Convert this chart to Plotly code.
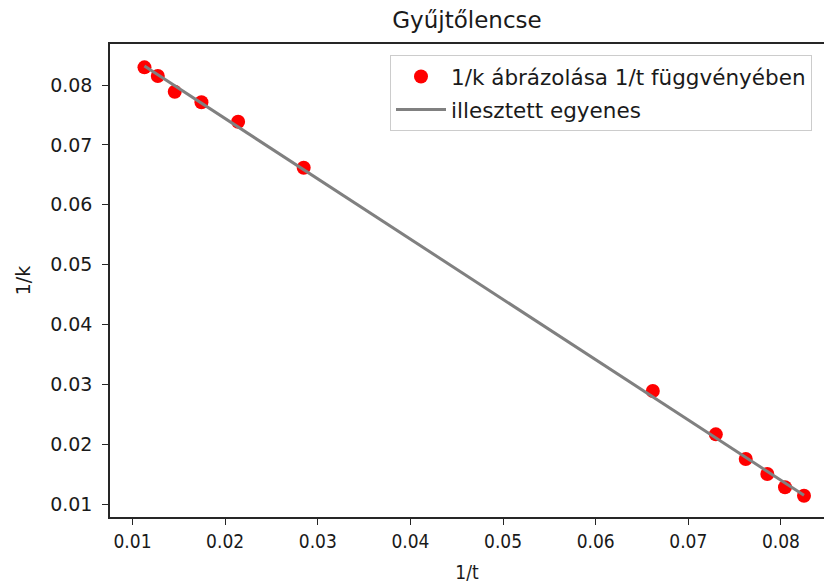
import numpy as np
import plotly.graph_objects as go

# 1/t values (x) and 1/k values (y)
inv_t = [0.01129, 0.01273, 0.01456, 0.01744, 0.02140, 0.02848,
         0.06617, 0.07297, 0.07620, 0.07853, 0.08044, 0.08249]
inv_k = [0.08295, 0.08150, 0.07888, 0.07711, 0.07387, 0.06618,
         0.02888, 0.02164, 0.01752, 0.01501, 0.01279, 0.01139]

title = "Gyűjtőlencse"
label_points = "1/k ábrázolása 1/t függvényében"
label_line = "illesztett egyenes"

# fitted line
slope, intercept = np.polyfit(inv_t, inv_k, 1)
fit_x = [min(inv_t), max(inv_t)]
fit_y = [slope * x + intercept for x in fit_x]

W, H = 824, 585
L, R, T, B = 110, 0, 44, 68

font = "DejaVu Sans"
narrow = "Liberation Sans Narrow, DejaVu Sans Condensed, DejaVu Sans"
txt = "#1a1a1a"

fig = go.Figure()
fig.add_trace(go.Scatter(
    x=inv_t, y=inv_k, mode="markers", name=label_points, legendgroup="a",
    marker=dict(color="#ff0000", size=14, line=dict(width=0)),
))
fig.add_trace(go.Scatter(
    x=fit_x, y=fit_y, mode="lines", name=label_line, legendgroup="b",
    line=dict(color="#808080", width=3),
))

fig.update_layout(
    width=W, height=H,
    margin=dict(l=L, r=R, t=T, b=B, autoexpand=False),
    paper_bgcolor="white", plot_bgcolor="white",
    font=dict(family=font, size=19, color=txt),
    title=dict(text=title, x=(L + (W - R - L) / 2) / W, xanchor="center",
               y=1 - 20 / H, yanchor="middle",
               font=dict(size=23, family=font, color=txt)),
    showlegend=True,
    legend=dict(
        x=(812 - L) / (W - L - R), xanchor="right",
        y=(H - B - 55) / (H - T - B), yanchor="top",
        bordercolor="#cccccc", borderwidth=1, bgcolor="rgba(255,255,255,0.8)",
        font=dict(size=21.5, family=font, color=txt),
        traceorder="grouped", tracegroupgap=2, itemwidth=50,
    ),
)
fig.update_xaxes(
    range=[0.00757, 0.08465], dtick=0.01, tick0=0, tickformat=".2f",
    showgrid=False, zeroline=False, automargin=False,
    showline=True, linecolor="#262626", linewidth=1.5, mirror=True,
    ticks="outside", ticklen=6, tickcolor="#262626", tickwidth=1.2,
    title=dict(text="1/t", standoff=15, font=dict(size=19, family=narrow)),
    tickfont=dict(size=19, family=narrow),
)
fig.update_yaxes(
    range=[0.00783, 0.08685], dtick=0.01, tick0=0, tickformat=".2f",
    showgrid=False, zeroline=False, automargin=False,
    showline=True, linecolor="#262626", linewidth=1.5, mirror=False,
    ticks="outside", ticklen=6, tickcolor="#262626", tickwidth=1.2,
    ticklabelstandoff=6,
    title=dict(text="1/k", standoff=14, font=dict(size=19)),
    tickfont=dict(size=19),
)

fig.write_html("out.html", config={"displayModeBar": False},
               post_script="document.body.style.margin='0';document.body.style.padding='0';")
